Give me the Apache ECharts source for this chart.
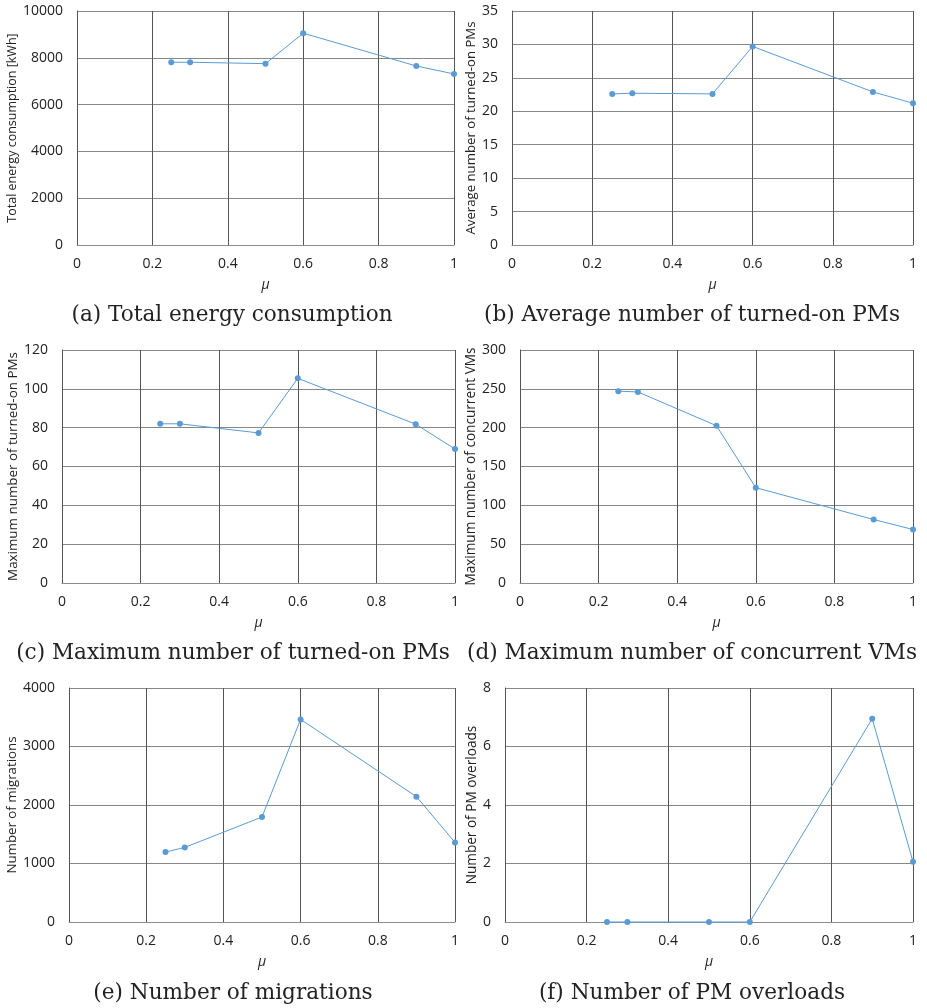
<!DOCTYPE html>
<html>
<head>
<meta charset="utf-8">
<script src="https://cdn.jsdelivr.net/npm/echarts@6/dist/echarts.min.js"></script>
<style>
  html, body { margin: 0; padding: 0; background: #fff; }
  #chart { width: 927px; height: 1008px; }
</style>
</head>
<body>
<div id="chart"></div>
<script>
'use strict';

// x values (mu)
const mu = [0.25, 0.3, 0.5, 0.6, 0.9, 1];

// series values
const energy = [7810, 7810, 7750, 9050, 7650, 7310];
const avgPMs = [22.6, 22.7, 22.6, 29.7, 22.9, 21.2];
const maxPMs = [82, 82, 77.3, 105.4, 81.8, 69];
const maxVMs = [247, 246, 202.5, 122.7, 81.7, 68.9];
const migrations = [1195, 1275, 1795, 3463, 2143, 1361];
const overloads = [0, 0, 0, 0, 6.95, 2.06];

const yNames = [
    'Total energy consumption [kWh]',
    'Average number of turned-on PMs',
    'Maximum number of turned-on PMs',
    'Maximum number of concurrent VMs',
    'Number of migrations',
    'Number of PM overloads'
];
const captions = [
    '(a) Total energy consumption',
    '(b) Average number of turned-on PMs',
    '(c) Maximum number of turned-on PMs',
    '(d) Maximum number of concurrent VMs',
    '(e) Number of migrations',
    '(f) Number of PM overloads'
];
const yMax = [10000, 35, 120, 300, 4000, 8];
const yStep = [2000, 5, 20, 50, 1000, 2];
const allData = [energy, avgPMs, maxPMs, maxVMs, migrations, overloads];

// layout of each panel (pixels); fs = y-axis name font size
const panels = [
    {left: 77,  top: 11,  right: 454, bottom: 245, gap: 58, fs: 12.5, cx: 232, cy: 315},
    {left: 512, top: 11,  right: 913, bottom: 245, gap: 34, fs: 13.2, cx: 692, cy: 315},
    {left: 62,  top: 350, right: 455, bottom: 583, gap: 42, fs: 13.4, cx: 233, cy: 653},
    {left: 520, top: 350, right: 913, bottom: 583, gap: 41, fs: 13.6, cx: 692, cy: 653},
    {left: 69,  top: 688, right: 455, bottom: 922, gap: 48, fs: 13.3, cx: 233, cy: 993},
    {left: 505, top: 688, right: 913, bottom: 922, gap: 26, fs: 13.6, cx: 692, cy: 993}
];

const tickFont = '"Open Sans", "Noto Sans", sans-serif';
const lineBlue = '#5b9bd5';

const grid = [], xAxis = [], yAxis = [], series = [], graphic = [];

panels.forEach((p, i) => {
    grid.push({
        left: p.left, top: p.top,
        width: p.right - p.left, height: p.bottom - p.top,
        containLabel: false
    });
    xAxis.push({
        gridIndex: i, type: 'value', min: 0, max: 1, interval: 0.2,
        name: 'μ', nameLocation: 'middle', nameGap: 33,
        nameTextStyle: {fontFamily: tickFont, fontStyle: 'italic', fontSize: 14, color: '#222'},
        axisLine: {show: true, lineStyle: {color: '#8c8c8c', width: 1}},
        axisTick: {show: false},
        axisLabel: {fontFamily: tickFont, fontSize: 14, color: '#222', margin: 12,
            formatter: v => String(Math.round(v * 10) / 10)},
        splitLine: {show: true, lineStyle: {color: '#555', width: 1}}
    });
    yAxis.push({
        gridIndex: i, type: 'value', min: 0, max: yMax[i], interval: yStep[i],
        name: yNames[i], nameLocation: 'middle', nameRotate: 90, nameGap: p.gap,
        nameTextStyle: {fontFamily: tickFont, fontSize: p.fs, color: '#222'},
        axisLine: {show: true, lineStyle: {color: '#555', width: 1}},
        axisTick: {show: false},
        axisLabel: {fontFamily: tickFont, fontSize: 14, color: '#222', margin: 14,
            formatter: v => String(v)},
        splitLine: {show: true, lineStyle: {color: '#888', width: 1}}
    });
    series.push({
        type: 'line', xAxisIndex: i, yAxisIndex: i,
        data: mu.map((m, k) => [m, allData[i][k]]),
        symbol: 'circle', symbolSize: 6,
        lineStyle: {color: lineBlue, width: 1},
        itemStyle: {color: lineBlue},
        clip: false,
        animation: false
    });
    graphic.push({
        type: 'text', x: p.cx, y: p.cy,
        style: {
            text: captions[i],
            font: '21.6px "DejaVu Serif", serif',
            fill: '#222',
            textAlign: 'center',
            textVerticalAlign: 'middle'
        }
    });
});

const chart = echarts.init(document.getElementById('chart'), null, {renderer: 'canvas'});
chart.setOption({
    animation: false,
    backgroundColor: '#fff',
    grid, xAxis, yAxis, series, graphic
});
</script>
</body>
</html>
